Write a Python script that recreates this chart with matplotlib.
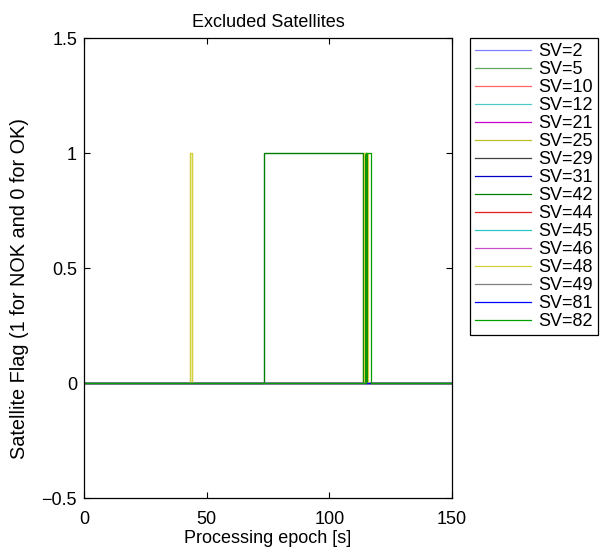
import matplotlib
matplotlib.use("Agg")
import matplotlib.pyplot as plt

plt.rcParams["font.family"] = ["Liberation Sans", "DejaVu Sans"]

# Satellite IDs and their line colours
sv_ids = [2, 5, 10, 12, 21, 25, 29, 31, 42, 44, 45, 46, 48, 49, 81, 82]
sv_colors = ["#8080ff", "#60a860", "#ff6464", "#50c8c8", "#c800c8", "#bebe28",
             "#404040", "#0000c8", "#008000", "#e61e1e", "#28c8c8", "#c850c8",
             "#d2d23c", "#808080", "#0000ff", "#00a000"]

# Exclusion intervals (epoch start, epoch end) where the flag is 1
sv_excluded = {
    5: [(73.5, 113.5)],
    25: [(43.3, 43.9), (113.6, 114.8)],
    42: [(73.5, 113.5), (114.6, 115.2)],
    48: [(43.3, 43.9), (114.2, 115.6)],
    82: [(115.0, 116.8)],
}

t_start, t_end = 0, 150

fig = plt.figure(figsize=(6.11, 5.51), dpi=100)
ax = fig.add_axes([0.1375, 0.096, 0.6025, 0.835])

for sv, col in zip(sv_ids, sv_colors):
    xs, ys = [t_start], [0]
    for s, e in sv_excluded.get(sv, []):
        xs += [s, s, e, e]
        ys += [0, 1, 1, 0]
    xs.append(t_end)
    ys.append(0)
    ax.plot(xs, ys, color=col, lw=0.9, label="SV=%d" % sv)

ax.set_xlim(0, 150)
ax.set_ylim(-0.5, 1.5)
ax.set_xticks([0, 50, 100, 150])
ax.set_yticks([-0.5, 0, 0.5, 1, 1.5])
ax.set_yticklabels(["\u22120.5", "0", "0.5", "1", "1.5"])
ax.tick_params(direction="in", top=True, right=True, labelsize=13, length=4, pad=5)
ax.tick_params(axis="x", pad=9)
for sp in ax.spines.values():
    sp.set_linewidth(0.9)

ax.set_title("Excluded Satellites", fontsize=13, pad=8)
ax.set_xlabel("Processing epoch [s]", fontsize=13, labelpad=2)
ax.set_ylabel("Satellite Flag (1 for NOK and 0 for OK)", fontsize=14.3)
ax.yaxis.set_label_coords(-0.15, 0.455)

leg = ax.legend(loc="upper left", bbox_to_anchor=(1.049, 1.0), fontsize=13,
                handlelength=3.1, labelspacing=0.055, borderaxespad=0,
                fancybox=False, framealpha=1, edgecolor="black",
                handletextpad=0.4, borderpad=0.28)
leg.get_frame().set_linewidth(0.9)

fig.savefig("out.png", dpi=100)
